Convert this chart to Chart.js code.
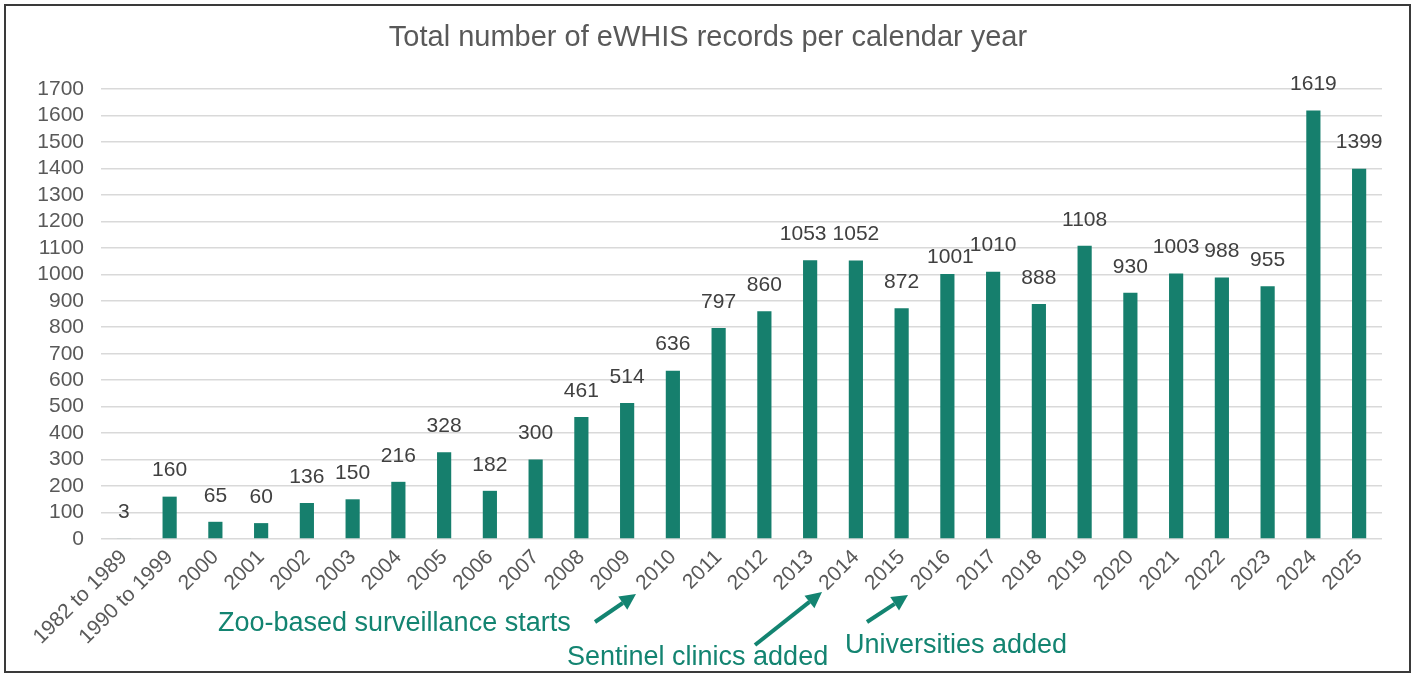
<!DOCTYPE html>
<html>
<head>
<meta charset="utf-8">
<script src="https://cdn.jsdelivr.net/npm/chart.js@4/dist/chart.umd.min.js"></script>
<style>
html,body{margin:0;padding:0;background:#fff;}
#wrap{width:1415px;height:675px;position:relative;}
</style>
</head>
<body>
<div id="wrap"><canvas id="c" width="1415" height="675"></canvas></div>
<script>
const categories = ["1982 to 1989","1990 to 1999","2000","2001","2002","2003","2004","2005","2006","2007","2008","2009","2010","2011","2012","2013","2014","2015","2016","2017","2018","2019","2020","2021","2022","2023","2024","2025"];
const records = [3,160,65,60,136,150,216,328,182,300,461,514,636,797,860,1053,1052,872,1001,1010,888,1108,930,1003,988,955,1619,1399];
const titleText = "Total number of eWHIS records per calendar year";
const annotations = [
  {text:"Zoo-based surveillance starts", category:"2010", textX:218, textY:624, from:[595,622], to:[636,594]},
  {text:"Sentinel clinics added", category:"2014", textX:567, textY:658, from:[755,645], to:[822,592]},
  {text:"Universities added", category:"2016", textX:845, textY:646, from:[867,622], to:[908,595]}
];
// small manual nudges of a few value labels, as in the original
const labelNudge = {"2013":[-7,0], "2016":[3,9]};
const FONT = "'Liberation Sans', Arial, Helvetica, sans-serif";
const BAR = "#167F6D";
const ANN = "#138471";

const framePlugin = {
  id:'frame',
  beforeDraw(chart){
    const ctx = chart.ctx;
    ctx.save();
    ctx.fillStyle = '#fff';
    ctx.fillRect(0,0,chart.width,chart.height);
    ctx.strokeStyle = '#3a3a3a';
    ctx.lineWidth = 2;
    ctx.strokeRect(5,5,1405,667);
    ctx.restore();
  },
  afterDraw(chart){
    const ctx = chart.ctx;
    ctx.save();
    // title
    ctx.font = "29px " + FONT;
    ctx.fillStyle = '#595959';
    ctx.textAlign = 'center';
    ctx.textBaseline = 'middle';
    ctx.fillText(titleText, 708, 38);
    // data labels
    const meta = chart.getDatasetMeta(0);
    ctx.font = "21px " + FONT;
    ctx.fillStyle = '#404040';
    meta.data.forEach((bar,i)=>{
      const n = labelNudge[categories[i]] || [0,0];
      ctx.fillText(String(records[i]), bar.x + n[0], bar.y - 26 + n[1]);
    });
    // annotations
    ctx.font = "27px " + FONT;
    ctx.textAlign = 'left';
    ctx.fillStyle = ANN;
    ctx.strokeStyle = ANN;
    annotations.forEach(a=>{
      ctx.fillText(a.text, a.textX, a.textY);
      const [x1,y1] = a.from, [x2,y2] = a.to;
      const ang = Math.atan2(y2-y1, x2-x1);
      const head = 16, hw = 8;
      const bx = x2 - head*Math.cos(ang), by = y2 - head*Math.sin(ang);
      ctx.lineWidth = 4;
      ctx.beginPath(); ctx.moveTo(x1,y1); ctx.lineTo(bx,by); ctx.stroke();
      ctx.beginPath();
      ctx.moveTo(x2,y2);
      ctx.lineTo(bx + hw*Math.sin(ang), by - hw*Math.cos(ang));
      ctx.lineTo(bx - hw*Math.sin(ang), by + hw*Math.cos(ang));
      ctx.closePath(); ctx.fill();
    });
    ctx.restore();
  }
};

new Chart(document.getElementById('c'), {
  type:'bar',
  data:{labels:categories, datasets:[{data:records, backgroundColor:BAR, borderWidth:0, barPercentage:0.31, categoryPercentage:1}]},
  options:{
    responsive:false, animation:false,
    layout:{padding:{top:89,right:33,left:0,bottom:0}},
    plugins:{legend:{display:false}, title:{display:false}, tooltip:{enabled:false}},
    scales:{
      x:{
        grid:{display:false, drawTicks:false},
        border:{display:false},
        ticks:{font:{size:21,family:FONT}, color:'#595959', minRotation:45, maxRotation:45, autoSkip:false, padding:6},
        afterFit(s){ s.height = 136; }
      },
      y:{
        min:0, max:1700,
        grid:{color:'#d9d9d9', lineWidth:1.5, drawTicks:false},
        border:{display:false},
        ticks:{stepSize:100, autoSkip:false, callback:(v)=>String(v), font:{size:21,family:FONT}, color:'#595959', padding:17},
        afterFit(s){ s.width = 101; }
      }
    }
  },
  plugins:[framePlugin]
});
</script>
</body>
</html>
